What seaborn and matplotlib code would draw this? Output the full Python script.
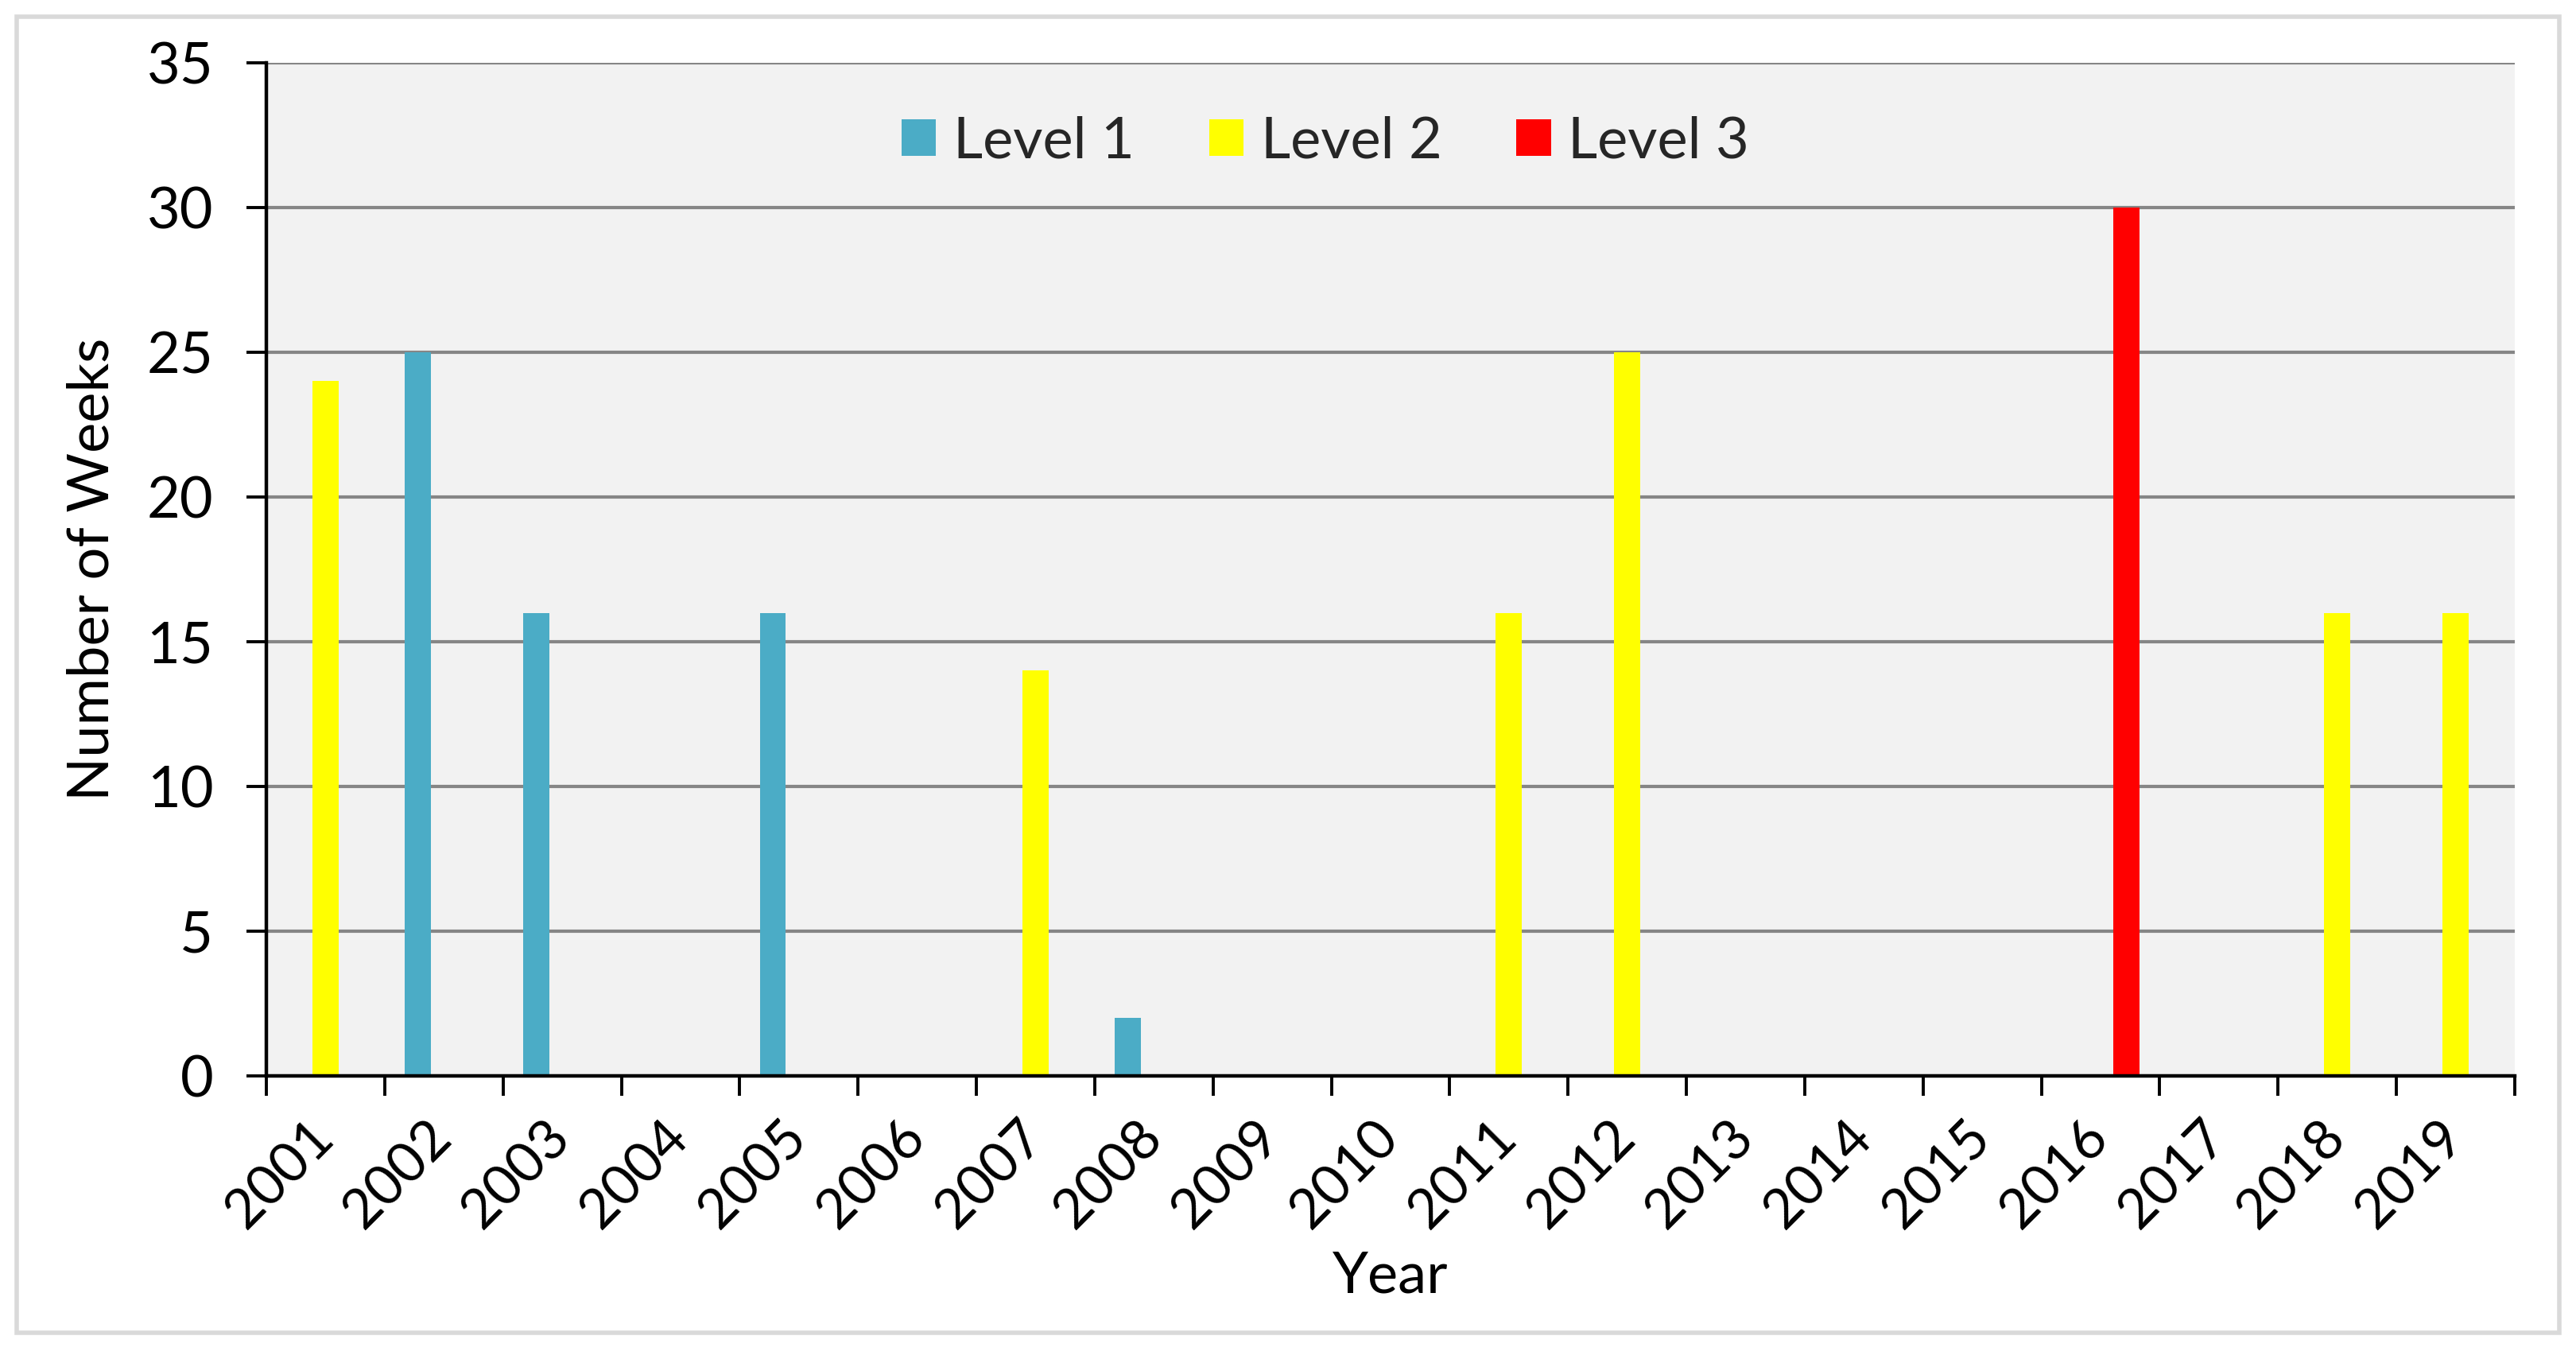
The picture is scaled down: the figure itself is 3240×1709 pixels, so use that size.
import numpy as np
import pandas as pd
import seaborn as sns
import matplotlib.pyplot as plt
from matplotlib.patches import Rectangle

years = [str(y) for y in range(2001, 2020)]
level_1 = [0, 25, 16, 0, 16, 0, 0, 2, 0, 0, 0, 0, 0, 0, 0, 0, 0, 0, 0]
level_2 = [24, 0, 0, 0, 0, 0, 14, 0, 0, 0, 16, 25, 0, 0, 0, 0, 0, 16, 16]
level_3 = [0, 0, 0, 0, 0, 0, 0, 0, 0, 0, 0, 0, 0, 0, 0, 30, 0, 0, 0]
levels = ["Level 1", "Level 2", "Level 3"]
colors = ["#4BACC6", "#FFFF00", "#FF0000"]

df = pd.DataFrame({"Year": years, "Level 1": level_1, "Level 2": level_2, "Level 3": level_3})
df = df.melt(id_vars="Year", var_name="Level", value_name="Weeks")

sns.set_theme(style="white")
plt.rcParams['font.family'] = ['Lato', 'DejaVu Sans']

fig = plt.figure(figsize=(16.2, 8.545), dpi=200)
ax = fig.add_axes([0.1034, 0.2083, 0.8728, 0.7455])

sns.barplot(data=df, x="Year", y="Weeks", hue="Level", hue_order=levels,
            palette=colors, width=0.66, gap=0, linewidth=0, saturation=1, ax=ax)

ax.set_facecolor("#f2f2f2")
ax.set_xlim(-0.5, len(years) - 0.5)
ax.set_ylim(0, 35)
ax.set_yticks(range(0, 36, 5))
ax.yaxis.grid(True, color="#868686", linewidth=1.5)
ax.set_axisbelow(True)

for s in ["top", "right"]:
    ax.spines[s].set_visible(False)
for s in ["left", "bottom"]:
    ax.spines[s].set_color("black")
    ax.spines[s].set_linewidth(1.6)

# ticks at category boundaries, labels at category centres
ax.set_xticks(np.arange(-0.5, len(years)), labels=[])
ax.set_xticks(range(len(years)), labels=years, minor=True)
ax.tick_params(axis="x", which="major", length=9, width=1.4, color="black", direction="out", bottom=True)
ax.tick_params(axis="x", which="minor", length=0, pad=24, labelsize=25, labelcolor="black")
plt.setp(ax.get_xticklabels(minor=True), rotation=45, ha="right", va="center", rotation_mode="anchor")
ax.tick_params(axis="y", length=9, width=1.4, color="black", direction="out", left=True,
               pad=15, labelsize=26, labelcolor="black")

ax.set_xlabel("Year", fontsize=26, color="black")
ax.set_ylabel("Number of Weeks", fontsize=26, color="black")
ax.xaxis.set_label_coords(0.5, -0.172)
ax.yaxis.set_label_coords(-0.066, 0.5)

ax.legend(loc="center", bbox_to_anchor=(0.471, 0.922), ncol=3, frameon=False, fontsize=26,
          handlelength=0.6, handleheight=0.6, handletextpad=0.3, columnspacing=1.3)

fig.patches.append(Rectangle((0.0065, 0.0193), 0.987, 0.9684, transform=fig.transFigure,
                             fill=False, edgecolor="#d9d9d9", linewidth=2))

fig.savefig("out.png", dpi=200)
